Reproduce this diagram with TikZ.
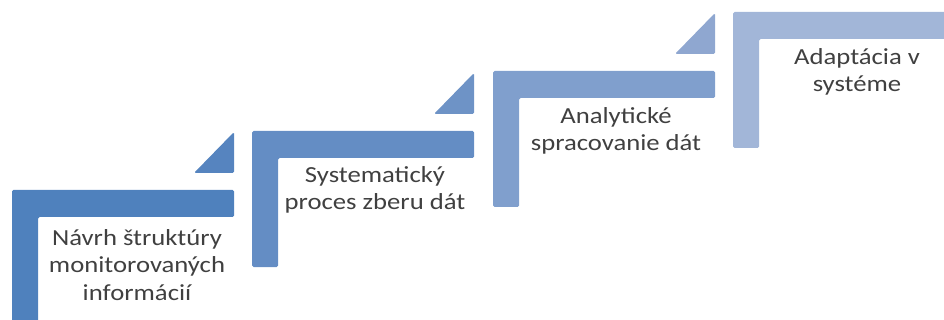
\documentclass[tikz,border=0pt]{standalone}
\usepackage{fontspec}
\setmainfont{Carlito}[FakeStretch=1.16]
\definecolor{cA}{RGB}{79,129,189}
\definecolor{cB}{RGB}{100,141,196}
\definecolor{cC}{RGB}{128,159,205}
\definecolor{cD}{RGB}{162,182,216}
\definecolor{tA}{RGB}{86,132,191}
\definecolor{tB}{RGB}{110,147,198}
\definecolor{tC}{RGB}{143,167,208}
\definecolor{txt}{RGB}{64,64,64}
\tikzset{
  stepshape/.style={rounded corners=1.5pt},
  steplabel/.style={align=center, text=txt, font=\fontsize{23}{27.5}\selectfont, inner sep=0pt},
}
\newcommand{\stepL}[3]{% x, y, colour
  \fill[#3, stepshape] (#1,#2) -- (#1+222,#2) -- (#1+222,#2+27) -- (#1+26,#2+27) -- (#1+26,#2+136) -- (#1,#2+136) -- cycle;
}
\newcommand{\stepT}[3]{% right x, top y of bar, colour
  \fill[#3, stepshape] (#1-40,#2-17) -- (#1,#2-58) -- (#1,#2-17) -- cycle;
}
\begin{document}
\begin{tikzpicture}[x=1pt,y=-1pt]
\useasboundingbox (0,0) rectangle (944,320);
\begin{scope}
\clip (0,0) rectangle (944,320);
\stepL{12}{190}{cA}
\stepL{252}{131}{cB}
\stepL{493}{71}{cC}
\stepL{733}{12}{cD}
\stepT{234}{190}{tA}
\stepT{474}{131}{tB}
\stepT{715}{71}{tC}
\end{scope}
\node[steplabel] (s1) at (137,265) {Návrh štruktúry\\monitorovaných\\informácií};
\node[steplabel] (s2) at (375,190) {Systematický\\proces zberu dát};
\node[steplabel] (s3) at (616,131) {Analytické\\spracovanie dát};
\node[steplabel] (s4) at (857,72) {Adaptácia v\\systéme};
\end{tikzpicture}
\end{document}
